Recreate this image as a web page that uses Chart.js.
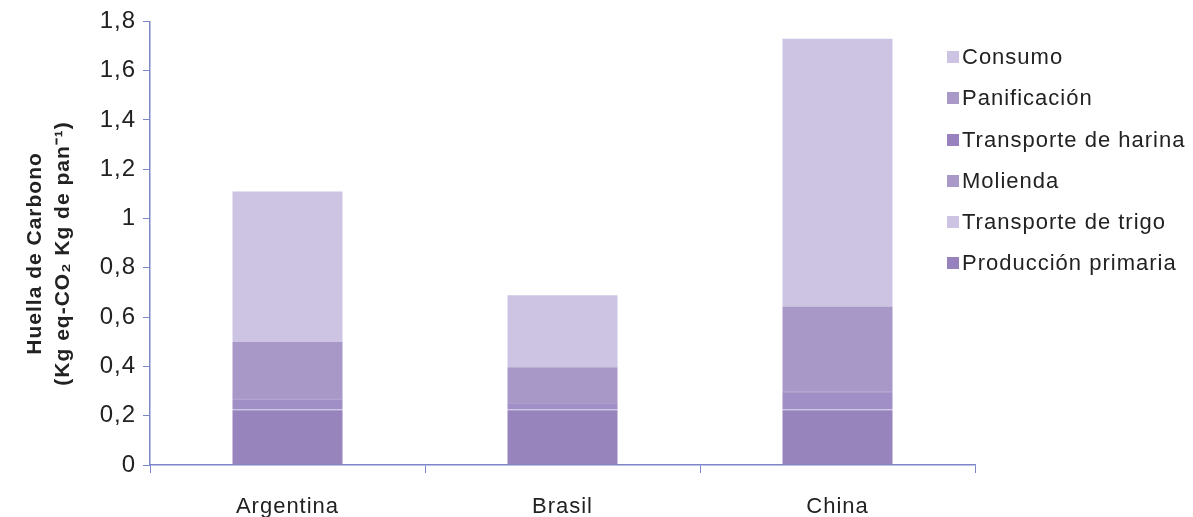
<!DOCTYPE html>
<html>
<head>
<meta charset="utf-8">
<script src="https://cdn.jsdelivr.net/npm/chart.js@4/dist/chart.umd.min.js"></script>
<style>
  html, body { margin: 0; padding: 0; background: #fff; }
  #wrap { position: relative; width: 1193px; height: 517px; }
  #legend { position: absolute; left: 947px; top: 36px; font-family: "Liberation Sans", Arial, sans-serif; font-size: 22px; letter-spacing: 1px; color: #222; }
  #legend div { height: 41.3px; line-height: 41.3px; white-space: nowrap; }
  #legend span { display: inline-block; width: 12px; height: 12px; margin-right: 3px; vertical-align: 1px; }
</style>
</head>
<body>
<div id="wrap">
  <canvas id="c" width="1193" height="517"></canvas>
  <div id="legend"></div>
</div>
<script>
const countries = ['Argentina', 'Brasil', 'China'];
const stages = ['Producción primaria', 'Transporte de trigo', 'Molienda', 'Transporte de harina', 'Panificación', 'Consumo'];
const produccionPrimaria = [0.222, 0.222, 0.222];
const transporteTrigo = [0.005, 0.005, 0.005];
const molienda = [0.040, 0.022, 0.066];
const transporteHarina = [0.004, 0.003, 0.004];
const panificacion = [0.229, 0.145, 0.346];
const consumo = [0.610, 0.292, 1.087];
const yTicks = [0, 0.2, 0.4, 0.6, 0.8, 1, 1.2, 1.4, 1.6, 1.8];

const stageValues = [produccionPrimaria, transporteTrigo, molienda, transporteHarina, panificacion, consumo];
const stageColors = ['#9884bd', '#cdc5e3', '#a08fc6', '#9884bd', '#a898c8', '#ccc4e2'];
const legendColors = ['#9782bd', '#cdc4e3', '#a899c9', '#9782bd', '#a899c9', '#cdc4e3'];
const axisColor = '#7b86c7';
const family = '"Liberation Sans", Arial, sans-serif';

const datasets = stages.map((s, i) => ({
    label: s,
    data: stageValues[i],
    backgroundColor: stageColors[i],
    borderWidth: 0,
    barPercentage: 0.4,
    categoryPercentage: 1
}));

// the source text is set a little wider than plain Arial;
// canvas resize wipes ctx state, so set it again before layout and draw
const spacing = {
    id: 'spacing',
    beforeUpdate: (chart) => { chart.ctx.letterSpacing = '1px'; },
    beforeDraw: (chart) => { chart.ctx.letterSpacing = '1px'; }
};

new Chart(document.getElementById('c'), {
    type: 'bar',
    data: { labels: countries, datasets: datasets },
    plugins: [spacing],
    options: {
        responsive: false,
        animation: false,
        layout: { padding: { top: 21, right: 218, left: 0, bottom: 0 } },
        plugins: { legend: { display: false }, tooltip: { enabled: false } },
        scales: {
            x: {
                stacked: true,
                offset: true,
                grid: { display: true, drawOnChartArea: false, color: axisColor, tickLength: 8, offset: true },
                border: { color: axisColor, width: 1.5 },
                ticks: { color: '#222', font: { family: family, size: 22 }, padding: 21 },
                afterFit: (axis) => { axis.height = 52; }
            },
            y: {
                stacked: true,
                min: 0,
                max: 1.8,
                afterBuildTicks: (axis) => { axis.ticks = yTicks.map(v => ({ value: v })); },
                grid: { display: true, drawOnChartArea: false, color: axisColor, tickLength: 7 },
                border: { color: axisColor, width: 1.5 },
                ticks: {
                    color: '#222',
                    font: { family: family, size: 24 },
                    padding: 7,
                    callback: (v) => String(Math.round(v * 10) / 10).replace('.', ',')
                },
                title: {
                    display: true,
                    // trailing spaces nudge the centred title a bit lower, as in the source
                    text: ['Huella de Carbono   ', '(Kg eq-CO\u2082 Kg de pan\u207B\u00B9)   '],
                    color: '#222',
                    font: { family: family, size: 21, weight: 'bold', lineHeight: 1.33 },
                    padding: { top: 21, bottom: 0 }
                },
                afterFit: (axis) => { axis.width = 150; }
            }
        }
    }
});

const legend = document.getElementById('legend');
for (let i = stages.length - 1; i >= 0; i--) {
    const row = document.createElement('div');
    const box = document.createElement('span');
    box.style.background = legendColors[i];
    row.appendChild(box);
    row.appendChild(document.createTextNode(stages[i]));
    legend.appendChild(row);
}
</script>
</body>
</html>
